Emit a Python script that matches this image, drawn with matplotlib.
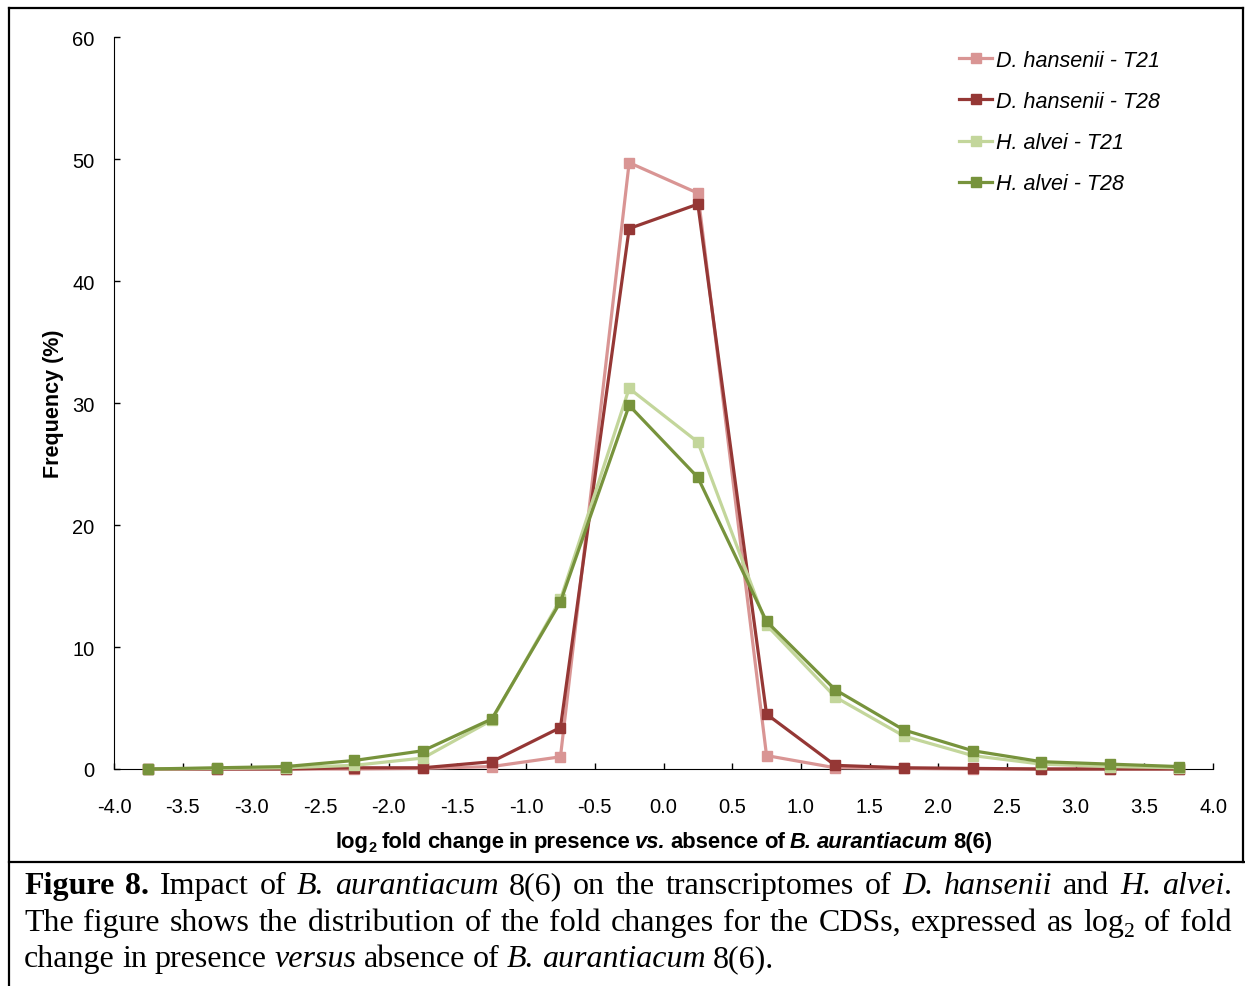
import matplotlib.pyplot as plt
from matplotlib.lines import Line2D

plt.rcParams['font.family'] = 'Liberation Sans'

# bin centres of log2 fold change
bins = [-3.75, -3.25, -2.75, -2.25, -1.75, -1.25, -0.75, -0.25,
        0.25, 0.75, 1.25, 1.75, 2.25, 2.75, 3.25, 3.75]

dh_t21 = [0, 0, 0, 0, 0.05, 0.2, 1.0, 49.7, 47.2, 1.1, 0.1, 0.05, 0, 0, 0, 0]
dh_t28 = [0, 0, 0, 0.1, 0.1, 0.6, 3.4, 44.3, 46.3, 4.5, 0.3, 0.1, 0.05, 0, 0, 0]
ha_t21 = [0, 0.05, 0.1, 0.3, 0.9, 4.0, 13.9, 31.2, 26.8, 11.8, 5.9, 2.7, 1.1, 0.4, 0.2, 0.1]
ha_t28 = [0, 0.1, 0.2, 0.7, 1.5, 4.1, 13.7, 29.8, 23.9, 12.1, 6.5, 3.2, 1.5, 0.6, 0.4, 0.2]

series_labels = ['D. hansenii - T21', 'D. hansenii - T28', 'H. alvei - T21', 'H. alvei - T28']
colors = ['#D99594', '#953735', '#C3D69B', '#77933C']

xticks = [-4.0, -3.5, -3.0, -2.5, -2.0, -1.5, -1.0, -0.5, 0.0,
          0.5, 1.0, 1.5, 2.0, 2.5, 3.0, 3.5, 4.0]
xticklabels = ['-4.0', '-3.5', '-3.0', '-2.5', '-2.0', '-1.5', '-1.0', '-0.5', '0.0',
               '0.5', '1.0', '1.5', '2.0', '2.5', '3.0', '3.5', '4.0']
yticks = [0, 10, 20, 30, 40, 50, 60]

W, H = 1245, 987
fig = plt.figure(figsize=(W / 100, H / 100), dpi=100)
ax = fig.add_axes([114 / W, 1 - 770 / H, 1099 / W, 732 / H])

for vals, lab, c in zip([dh_t21, dh_t28, ha_t21, ha_t28], series_labels, colors):
    ax.plot(bins, vals, color=c, lw=2.3, marker='s', markersize=7.5,
            label=lab, clip_on=False, zorder=3)

ax.set_xlim(-4, 4)
ax.set_ylim(0, 60)
ax.set_xticks(xticks)
ax.set_xticklabels(xticklabels)
ax.set_yticks(yticks)
ax.spines['top'].set_visible(False)
ax.spines['right'].set_visible(False)
ax.tick_params(direction='in', length=4, width=1, labelsize=14.5)
ax.tick_params(axis='x', pad=20)
ax.tick_params(axis='y', pad=14)

ax.set_ylabel('Frequency (%)', fontweight='bold', fontsize=15.5)
ax.yaxis.set_label_coords(-50 / 1099, 0.5)

leg = ax.legend(loc='upper left', bbox_to_anchor=(959 / W, 1 - 51 / H),
                bbox_transform=fig.transFigure, frameon=False,
                prop={'style': 'italic', 'size': 15.5}, handlelength=1.55,
                handletextpad=0.15, labelspacing=0.93, borderpad=0, borderaxespad=0)

renderer = fig.canvas.get_renderer()

sans = 'Liberation Sans'
serif = 'Liberation Serif'
styles = {
    'xb': dict(family=sans, weight='bold', size=15.8),
    'xbi': dict(family=sans, weight='bold', style='italic', size=15.8),
    'xsub': dict(family=sans, weight='bold', size=10.5),
    'r': dict(family=serif, size=23),
    'b': dict(family=serif, weight='bold', size=23),
    'i': dict(family=serif, style='italic', size=23),
    'sub': dict(family=serif, size=15.5),
}
drop = {'xsub': 4, 'sub': 6}


def put_words(words, ypx, x0, x1=None, gap=None, center=None):
    placed = []
    widths = []
    for word in words:
        runs = []
        ww = 0
        for txt, st in word:
            t = fig.text(0, 1 - (ypx + drop.get(st, 0)) / H, txt, va='baseline', **styles[st])
            runs.append((t, ww))
            ww += t.get_window_extent(renderer).width
        placed.append(runs)
        widths.append(ww)
    if x1 is not None:
        gap = (x1 - x0 - sum(widths)) / (len(words) - 1)
    if center is not None:
        x0 = center - (sum(widths) + gap * (len(words) - 1)) / 2
    x = x0
    for runs, ww in zip(placed, widths):
        for t, off in runs:
            t.set_x((x + off) / W)
        x += ww + gap


# x axis title
put_words([[('log', 'xb'), ('2', 'xsub')], [('fold', 'xb')], [('change', 'xb')],
           [('in', 'xb')], [('presence', 'xb')], [('vs.', 'xbi')], [('absence', 'xb')],
           [('of', 'xb')], [('B.', 'xbi')], [('aurantiacum', 'xbi')], [('8(6)', 'xb')]],
          848, 0, gap=5, center=664)


def plain(s, st='r'):
    return [[(w, st)] for w in s.split()]


line1 = ([[('Figure', 'b')], [('8.', 'b')]] + plain('Impact of') + plain('B. aurantiacum', 'i')
         + plain('8(6) on the transcriptomes of') + plain('D. hansenii', 'i') + plain('and')
         + [[('H.', 'i')], [('alvei', 'i'), ('.', 'r')]])
line2 = (plain('The figure shows the distribution of the fold changes for the CDSs, expressed as')
         + [[('log', 'r'), ('2', 'sub')]] + plain('of fold'))
line3 = (plain('change in presence') + plain('versus', 'i') + plain('absence of')
         + plain('B. aurantiacum', 'i') + plain('8(6).'))

put_words(line1, 894, 24, 1232)
put_words(line2, 931, 24, 1232)
put_words(line3, 967, 24, gap=7.5)

# frame around figure and caption
for xs, ys in [([9, 9], [9, 987]), ([9, 1243], [9, 9]), ([1243, 1243], [9, 863]),
               ([9, 1245], [863, 863])]:
    fig.add_artist(Line2D([x / W for x in xs], [1 - y / H for y in ys], color='black', lw=1.6))

fig.savefig('out.png', dpi=100)
